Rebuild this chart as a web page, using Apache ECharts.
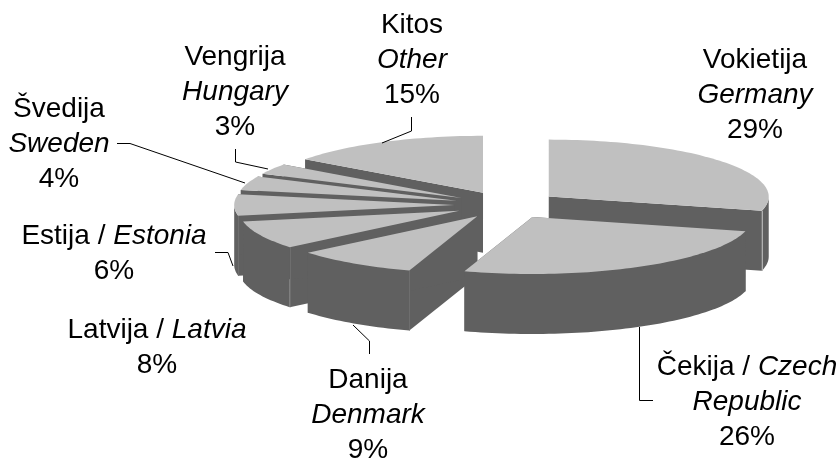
<!DOCTYPE html>
<html>
<head>
<meta charset="utf-8">
<style>html,body{margin:0;padding:0;background:#fff}#c{width:839px;height:460px}</style>
<script src="https://cdn.jsdelivr.net/npm/echarts@6/dist/echarts.min.js"></script>
</head>
<body>
<div id="c"></div>
<script>
// Data, clockwise from 12 o'clock
const namesLt = ['Vokietija', 'Čekija', 'Danija', 'Latvija', 'Estija', 'Švedija', 'Vengrija', 'Kitos'];
const namesEn = ['Germany', 'Czech', 'Denmark', 'Latvia', 'Estonia', 'Sweden', 'Hungary', 'Other'];
const shares = [29, 26, 9, 8, 6, 4, 3, 15];

// Label rich-text templates: n = regular, i = italic
const labelTemplates = [
  '{n|#lt}\n{i|#en}\n{n|#pct}',
  '{n|#lt / }{i|#en}\n{i|Republic}\n{n|#pct}',
  '{n|#lt}\n{i|#en}\n{n|#pct}',
  '{n|#lt / }{i|#en}\n{n|#pct}',
  '{n|#lt / }{i|#en}\n{n|#pct}',
  '{n|#lt}\n{i|#en}\n{n|#pct}',
  '{n|#lt}\n{i|#en}\n{n|#pct}',
  '{n|#lt}\n{i|#en}\n{n|#pct}'
];
// Layout of labels (centre x, centre y of block)
const labelPos = [[755, 95], [747, 402], [368, 415], [157, 348], [114, 254], [59, 144], [235, 92], [412, 60]];
// Leader lines
const leaders = [
  [[639.5, 327], [639.5, 400.5], [653, 400.5]],
  [[369.5, 354], [369.5, 341], [353, 325]],
  [[215, 252.5], [228, 252.5], [233, 266]],
  [[117, 143.5], [130, 143.5], [245, 183]],
  [[235.5, 149], [235.5, 162], [268, 169]],
  [[411.5, 117], [411.5, 131], [382, 143]]
];

// 3D pie projection
const CX = 507, CY = 205, RX = 220, RY = 57, DEPTH = 60, EXPLODE = 0.24;
const TOP = '#c0c0c0', SIDE = '#606060', EDGE_END = '#b0b0b0', EDGE_START = '#6e6e6e';

const total = shares.reduce((a, b) => a + b, 0);
let acc = 0;
const slices = shares.map(v => {
  const start = acc / total * 360;
  acc += v;
  const end = acc / total * 360;
  const mid = (start + end) / 2 * Math.PI / 180;
  return {
    start, end,
    cx: CX + EXPLODE * RX * Math.sin(mid),
    cy: CY - EXPLODE * RY * Math.cos(mid),
    depth: -Math.cos(mid)
  };
});
const drawOrder = slices.map((s, i) => i).sort((a, b) => slices[a].depth - slices[b].depth);

function rim(s, deg, dz) {
  const r = deg * Math.PI / 180;
  return [s.cx + RX * Math.sin(r), s.cy - RY * Math.cos(r) + (dz || 0)];
}
function arc(s, a, b, dz) {
  const pts = [];
  const n = Math.max(2, Math.ceil((b - a) / 1.5));
  for (let k = 0; k <= n; k++) pts.push(rim(s, a + (b - a) * k / n, dz));
  return pts;
}
function poly(points, fill) {
  return { type: 'polygon', shape: { points }, style: { fill, stroke: null } };
}
function edgeLine(s, a, stroke) {
  const p = rim(s, a), q = rim(s, a, DEPTH);
  const x = Math.round(p[0]) + 0.5;
  return { type: 'line', shape: { x1: x, y1: p[1], x2: x, y2: q[1] }, style: { stroke, lineWidth: 1 } };
}
function renderSlice(params, api) {
  const s = slices[api.value(0)];
  const children = [];
  const apex = [s.cx, s.cy];
  const apexB = [s.cx, s.cy + DEPTH];
  [s.start, s.end].forEach(a => {
    children.push(poly([apex, rim(s, a), rim(s, a, DEPTH), apexB], SIDE));
  });
  const a0 = Math.max(s.start, 90), a1 = Math.min(s.end, 270);
  if (a1 > a0) {
    children.push(poly(arc(s, a0, a1, 0).concat(arc(s, a0, a1, DEPTH).reverse()), SIDE));
  }
  if (s.end < 180 && s.end > 90) children.push(edgeLine(s, s.end, EDGE_END));
  if (s.start > 180 && s.start < 270) children.push(edgeLine(s, s.start, EDGE_START));
  children.push(poly([apex].concat(arc(s, s.start, s.end, 0)), TOP));
  return { type: 'group', children };
}

const labelEls = shares.map((v, i) => ({
  type: 'text',
  x: labelPos[i][0],
  y: labelPos[i][1],
  z: 10,
  style: {
    text: labelTemplates[i].replace('#lt', namesLt[i]).replace('#en', namesEn[i]).replace('#pct', v + '%'),
    align: 'center',
    verticalAlign: 'middle',
    rich: {
      n: { fontFamily: 'Liberation Sans', fontSize: 28, lineHeight: 35, fill: '#000', fontStyle: 'normal' },
      i: { fontFamily: 'Liberation Sans', fontSize: 28, lineHeight: 35, fill: '#000', fontStyle: 'italic' }
    }
  }
}));
const leaderEls = leaders.map(points => ({
  type: 'polyline',
  z: 9,
  shape: { points },
  style: { stroke: '#000', lineWidth: 1, fill: null }
}));

const chart = echarts.init(document.getElementById('c'), null, { renderer: 'canvas' });
chart.setOption({
  animation: false,
  backgroundColor: '#fff',
  series: [{
    type: 'custom',
    coordinateSystem: 'none',
    silent: true,
    renderItem: renderSlice,
    data: drawOrder.map(i => [i, shares[i]])
  }],
  graphic: { elements: leaderEls.concat(labelEls) }
});
</script>
</body>
</html>
